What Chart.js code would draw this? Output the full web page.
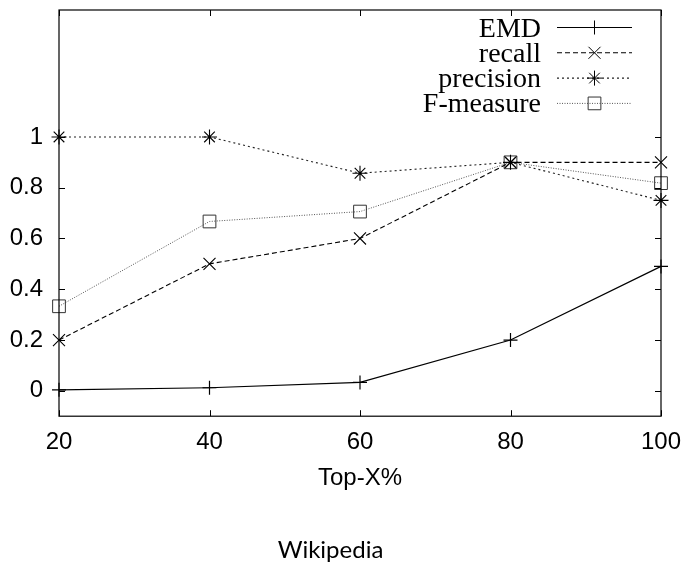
<!DOCTYPE html>
<html>
<head>
<meta charset="utf-8">
<script src="https://cdn.jsdelivr.net/npm/chart.js@4"></script>
<style>
  html, body { margin: 0; padding: 0; background: #fff; }
  #wrap { width: 686px; height: 565px; position: relative; }
</style>
</head>
<body>
<div id="wrap"><canvas id="chart"></canvas></div>
<script>
// values
const topX = [20, 40, 60, 80, 100];
const emd = [0.004, 0.012, 0.033, 0.2, 0.49];
const recall = [0.2, 0.5, 0.6, 0.9, 0.9];
const precision = [1, 1, 0.857, 0.9, 0.75];
const fMeasure = [0.333, 0.667, 0.706, 0.9, 0.818];
const yTickValues = [0, 0.2, 0.4, 0.6, 0.8, 1];
const xTickValues = [20, 40, 60, 80, 100];

const toPoints = (ys) => topX.map((x, i) => ({ x: x, y: ys[i] }));

// gnuplot-like frame with inward ticks on all four sides
const framePlugin = {
    id: 'frame',
    afterDatasetsDraw(chart) {
        const ctx = chart.ctx;
        const a = chart.chartArea;
        const xs = chart.scales.x;
        const ys = chart.scales.y;
        ctx.save();
        ctx.strokeStyle = '#000';
        ctx.lineWidth = 1.2;
        ctx.setLineDash([]);
        ctx.strokeRect(a.left, a.top, a.right - a.left, a.bottom - a.top);
        ctx.lineWidth = 1;
        ctx.beginPath();
        xTickValues.forEach(v => {
            const px = Math.round(xs.getPixelForValue(v)) + 0.5;
            ctx.moveTo(px, a.bottom); ctx.lineTo(px, a.bottom - 6);
            ctx.moveTo(px, a.top); ctx.lineTo(px, a.top + 6);
        });
        yTickValues.forEach(v => {
            const py = Math.round(ys.getPixelForValue(v)) + 0.5;
            ctx.moveTo(a.left, py); ctx.lineTo(a.left + 6, py);
            ctx.moveTo(a.right, py); ctx.lineTo(a.right - 6, py);
        });
        ctx.stroke();
        ctx.restore();
    }
};

// legend in the top-right corner: text on the left, line sample on the right
const keyPlugin = {
    id: 'key',
    afterDraw(chart) {
        const ctx = chart.ctx;
        const textRight = 541, x0 = 557, x1 = 632, xm = 594.5;
        ctx.save();
        chart.data.datasets.forEach((ds, i) => {
            const y = 27.5 + i * 25.3;
            ctx.fillStyle = '#000';
            ctx.font = '28px "Liberation Serif"';
            ctx.textAlign = 'right';
            ctx.textBaseline = 'alphabetic';
            ctx.fillText(ds.label, textRight, y + 9);
            ctx.strokeStyle = ds.borderColor;
            ctx.lineWidth = ds.borderWidth;
            ctx.setLineDash(ds.borderDash || []);
            ctx.beginPath();
            ctx.moveTo(x0, y); ctx.lineTo(x1, y);
            ctx.stroke();
            ctx.setLineDash([]);
            ctx.strokeStyle = ds.pointBorderColor;
            ctx.fillStyle = 'rgba(0,0,0,0)';
            ctx.lineWidth = 1;
            Chart.helpers.drawPoint(ctx, {
                pointStyle: ds.pointStyle,
                radius: ds.pointRadius,
                rotation: 0,
                borderWidth: 1
            }, xm, y);
        });
        ctx.restore();
    }
};

// drop the extra room Chart.js keeps for edge labels
const noEdgePadding = (scale) => {
    scale.paddingTop = 0;
    scale.paddingBottom = 0;
    scale.paddingLeft = 0;
    scale.paddingRight = 0;
};

const ctx = document.getElementById('chart').getContext('2d');
const myChart = new Chart(ctx, {
    type: 'line',
    data: {
        datasets: [{
            label: 'EMD',
            data: toPoints(emd),
            borderColor: '#000',
            borderWidth: 1.2,
            pointStyle: 'cross',
            pointRadius: 7,
            pointBorderColor: '#000',
            pointBackgroundColor: 'transparent',
            clip: false
        }, {
            label: 'recall',
            data: toPoints(recall),
            borderColor: '#000',
            borderWidth: 1.1,
            borderDash: [5, 3],
            pointStyle: 'crossRot',
            pointRadius: 8.5,
            pointBorderColor: '#000',
            pointBackgroundColor: 'transparent',
            clip: false
        }, {
            label: 'precision',
            data: toPoints(precision),
            borderColor: '#222',
            borderWidth: 1.1,
            borderDash: [2, 3],
            pointStyle: 'star',
            pointRadius: 7.5,
            pointBorderColor: '#000',
            pointBackgroundColor: 'transparent',
            clip: false
        }, {
            label: 'F-measure',
            data: toPoints(fMeasure),
            borderColor: '#555',
            borderWidth: 1,
            borderDash: [1, 1.5],
            pointStyle: 'rect',
            pointRadius: 9,
            pointBorderColor: '#333',
            pointBackgroundColor: 'transparent',
            clip: false
        }]
    },
    options: {
        responsive: true,
        maintainAspectRatio: false,
        animation: false,
        layout: { padding: { top: 8, right: 25, left: 0, bottom: 0 } },
        plugins: {
            legend: { display: false },
            tooltip: { enabled: false },
            title: {
                display: true,
                position: 'bottom',
                text: 'Wikipedia',
                color: '#000',
                font: { family: 'Lato', size: 24, weight: 'normal' },
                padding: { top: 43, bottom: 0 }
            }
        },
        scales: {
            x: {
                type: 'linear',
                min: 20,
                max: 100,
                grid: { display: false, drawTicks: false },
                border: { display: false },
                afterBuildTicks: (scale) => { scale.ticks = xTickValues.map(v => ({ value: v })); },
                afterFit: (scale) => { scale.height = 77; noEdgePadding(scale); },
                ticks: {
                    padding: 12,
                    color: '#000',
                    font: { family: 'Liberation Sans', size: 24 },
                    maxRotation: 0
                },
                title: {
                    display: true,
                    text: 'Top-X%',
                    color: '#000',
                    font: { family: 'Liberation Sans', size: 24 },
                    padding: { top: 3, bottom: 0 }
                }
            },
            y: {
                type: 'linear',
                min: -0.1,
                max: 1.5,
                grid: { display: false, drawTicks: false },
                border: { display: false },
                afterBuildTicks: (scale) => { scale.ticks = yTickValues.map(v => ({ value: v })); },
                afterFit: (scale) => { scale.width = 59; noEdgePadding(scale); },
                ticks: {
                    padding: 16,
                    color: '#000',
                    font: { family: 'Liberation Sans', size: 24 },
                    callback: (v) => String(Number(v.toFixed(1)))
                }
            }
        }
    },
    plugins: [framePlugin, keyPlugin]
});
</script>
</body>
</html>
